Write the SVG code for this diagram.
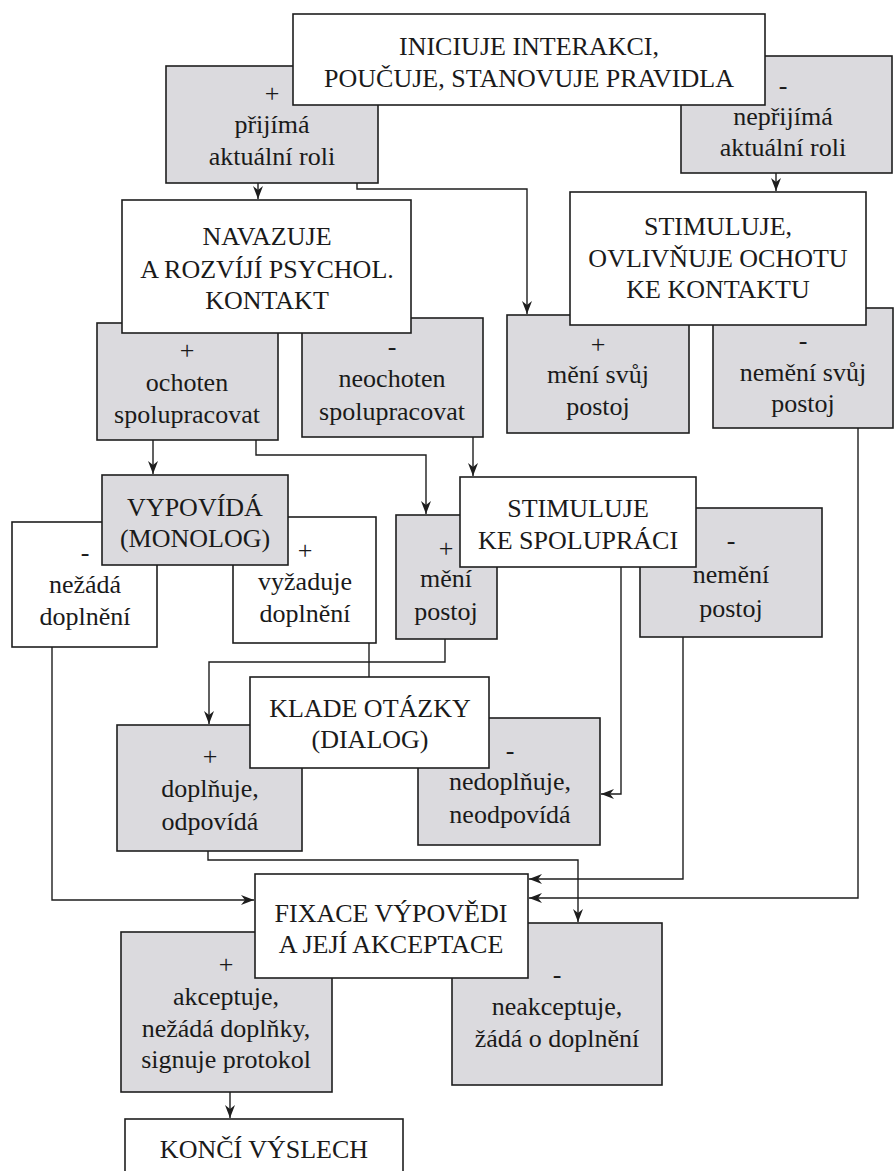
<svg xmlns="http://www.w3.org/2000/svg" width="895" height="1171" viewBox="0 0 895 1171">
  <defs>
    <marker id="arr" markerUnits="userSpaceOnUse" markerWidth="14" markerHeight="10" refX="13" refY="5" orient="auto">
      <path d="M0,0 L13,5 L0,10 L4,5 Z" fill="#1e1e1e"/>
    </marker>
  </defs>
  <style>
    .g rect { fill: #dbdade; stroke: #1e1e1e; stroke-width: 1.6; }
    .w rect { fill: #ffffff; stroke: #1e1e1e; stroke-width: 1.6; }
    text { font-size: 26px; fill: #1a1a1a; text-anchor: middle; }
    .c { fill: none; stroke: #1e1e1e; stroke-width: 1.4; }
    .a { marker-end: url(#arr); }
  </style>
  <rect width="895" height="1171" fill="#ffffff"/>

  <g id="connectors">
    <path class="c a" d="M258,183 V199"/>
    <path class="c a" d="M357,183 V189 H527 V314"/>
    <path class="c a" d="M776,173 V191"/>
    <path class="c a" d="M153,440 V474"/>
    <path class="c a" d="M256,440 V455 H426 V514"/>
    <path class="c a" d="M473,437 V476"/>
    <path class="c a" d="M445,639 V662 H209 V724"/>
    <path class="c" d="M369,643 V677"/>
    <path class="c a" d="M621,567 V794 H601"/>
    <path class="c a" d="M52,647 V900 H254"/>
    <path class="c a" d="M208,851 V860 H578 V922"/>
    <path class="c a" d="M683,637 V879 H529"/>
    <path class="c a" d="M858,428 V898 H529"/>
    <path class="c a" d="M230,1092 V1118"/>
  </g>

  <g font-family="'Liberation Serif', 'DejaVu Serif', serif">
  <g id="n-prijima" class="g">
    <rect x="166" y="66" width="212" height="117"/>
    <text x="272" y="102">+</text>
    <text x="272" y="133">přijímá</text>
    <text x="272" y="165">aktuální roli</text>
  </g>
  <g id="n-neprijima" class="g">
    <rect x="681" y="56" width="211" height="117"/>
    <text x="783" y="94">-</text>
    <text x="783" y="125">nepřijímá</text>
    <text x="783" y="156">aktuální roli</text>
  </g>
  <g id="n-inicuje" class="w">
    <rect x="293" y="14" width="472" height="91"/>
    <text x="529" y="55">INICIUJE INTERAKCI,</text>
    <text x="529" y="87">POUČUJE, STANOVUJE PRAVIDLA</text>
  </g>

  <g id="n-ochoten" class="g">
    <rect x="97" y="323" width="181" height="117"/>
    <text x="187" y="359">+</text>
    <text x="187" y="391">ochoten</text>
    <text x="187" y="423">spolupracovat</text>
  </g>
  <g id="n-neochoten" class="g">
    <rect x="302" y="318" width="181" height="119"/>
    <text x="392" y="355">-</text>
    <text x="392" y="387">neochoten</text>
    <text x="392" y="420">spolupracovat</text>
  </g>
  <g id="n-meni-svuj" class="g">
    <rect x="507" y="315" width="182" height="118"/>
    <text x="598" y="353">+</text>
    <text x="598" y="383">mění svůj</text>
    <text x="598" y="415">postoj</text>
  </g>
  <g id="n-nemeni-svuj" class="g">
    <rect x="713" y="308" width="180" height="120"/>
    <text x="803" y="349">-</text>
    <text x="803" y="381">nemění svůj</text>
    <text x="803" y="412">postoj</text>
  </g>
  <g id="n-navazuje" class="w">
    <rect x="122" y="200" width="289" height="133"/>
    <text x="267" y="245">NAVAZUJE</text>
    <text x="267" y="278">A ROZVÍJÍ PSYCHOL.</text>
    <text x="267" y="309">KONTAKT</text>
  </g>
  <g id="n-stimuluje-ochotu" class="w">
    <rect x="570" y="192" width="296" height="133"/>
    <text x="718" y="235">STIMULUJE,</text>
    <text x="718" y="267">OVLIVŇUJE OCHOTU</text>
    <text x="718" y="298">KE KONTAKTU</text>
  </g>

  <g id="n-nezada" class="w">
    <rect x="12" y="522" width="145" height="125"/>
    <text x="85" y="561">-</text>
    <text x="85" y="593">nežádá</text>
    <text x="85" y="625">doplnění</text>
  </g>
  <g id="n-vyzaduje" class="w">
    <rect x="233" y="517" width="143" height="126"/>
    <text x="305" y="559">+</text>
    <text x="305" y="590">vyžaduje</text>
    <text x="305" y="622">doplnění</text>
  </g>
  <g id="n-vypovida" class="g">
    <rect x="102" y="475" width="186" height="90"/>
    <text x="195" y="516">VYPOVÍDÁ</text>
    <text x="195" y="547">(MONOLOG)</text>
  </g>
  <g id="n-meni-postoj" class="g">
    <rect x="396" y="515" width="101" height="124"/>
    <text x="446" y="557">+</text>
    <text x="446" y="587">mění</text>
    <text x="446" y="620">postoj</text>
  </g>
  <g id="n-nemeni-postoj" class="g">
    <rect x="640" y="508" width="182" height="129"/>
    <text x="731" y="549">-</text>
    <text x="731" y="583">nemění</text>
    <text x="731" y="617">postoj</text>
  </g>
  <g id="n-stimuluje-spolupraci" class="w">
    <rect x="460" y="477" width="236" height="90"/>
    <text x="578" y="517">STIMULUJE</text>
    <text x="578" y="549">KE SPOLUPRÁCI</text>
  </g>

  <g id="n-doplnuje" class="g">
    <rect x="117" y="725" width="185" height="126"/>
    <text x="210" y="765">+</text>
    <text x="210" y="797">doplňuje,</text>
    <text x="210" y="830">odpovídá</text>
  </g>
  <g id="n-nedoplnuje" class="g">
    <rect x="418" y="718" width="182" height="127"/>
    <text x="510" y="759">-</text>
    <text x="510" y="790">nedoplňuje,</text>
    <text x="510" y="823">neodpovídá</text>
  </g>
  <g id="n-klade" class="w">
    <rect x="250" y="677" width="239" height="91"/>
    <text x="370" y="717">KLADE OTÁZKY</text>
    <text x="370" y="748">(DIALOG)</text>
  </g>

  <g id="n-akceptuje" class="g">
    <rect x="121" y="932" width="211" height="160"/>
    <text x="226" y="973">+</text>
    <text x="226" y="1005">akceptuje,</text>
    <text x="226" y="1037">nežádá doplňky,</text>
    <text x="226" y="1068">signuje protokol</text>
  </g>
  <g id="n-neakceptuje" class="g">
    <rect x="452" y="923" width="210" height="162"/>
    <text x="557" y="983">-</text>
    <text x="557" y="1015">neakceptuje,</text>
    <text x="557" y="1047">žádá o doplnění</text>
  </g>
  <g id="n-fixace" class="w">
    <rect x="255" y="874" width="273" height="104"/>
    <text x="391" y="922">FIXACE VÝPOVĚDI</text>
    <text x="391" y="953">A JEJÍ AKCEPTACE</text>
  </g>
  <g id="n-konci" class="w">
    <rect x="125" y="1119" width="278" height="70"/>
    <text x="264" y="1158">KONČÍ VÝSLECH</text>
  </g>
  </g>
</svg>
